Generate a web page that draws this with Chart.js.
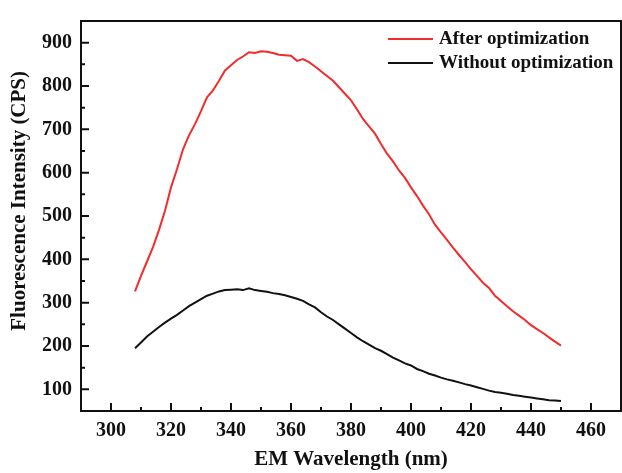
<!DOCTYPE html>
<html>
<head>
<meta charset="utf-8">
<script src="https://cdn.jsdelivr.net/npm/chart.js@4.4.1/dist/chart.umd.min.js"></script>
<style>
  html, body { margin: 0; padding: 0; background: #fff; }
</style>
</head>
<body>
<canvas id="ch" width="622" height="473"></canvas>
<script>
// emission wavelength, nm
const wavelengths = [
  308, 310, 312, 314, 316, 318, 320, 322, 324, 326, 328, 330, 332, 334, 336, 338,
  340, 342, 344, 346, 348, 350, 352, 354, 356, 358, 360, 362, 364, 366, 368, 370,
  372, 374, 376, 378, 380, 382, 384, 386, 388, 390, 392, 394, 396, 398, 400, 402,
  404, 406, 408, 410, 412, 414, 416, 418, 420, 422, 424, 426, 428, 430, 432, 434,
  436, 438, 440, 442, 444, 446, 448, 450
];
const afterOpt = [
  326, 362, 395, 428, 468, 512, 566, 608, 654, 686, 712, 742, 774, 790, 812, 836,
  848, 860, 868, 878, 876, 880, 879, 876, 872, 871, 870, 858, 862, 855, 845, 834,
  823, 812, 797, 782, 767, 746, 724, 707, 690, 666, 644, 626, 605, 588, 566, 546,
  524, 504, 480, 462, 445, 427, 410, 394, 377, 362, 346, 334, 316, 304, 292, 280,
  270, 260, 248, 239, 230, 220, 210, 201
];
const withoutOpt = [
  195, 208, 222, 233, 244, 254, 263, 272, 282, 292, 300, 308, 316, 321, 326, 329,
  330, 331, 329, 333, 329, 327, 325, 322, 320, 317, 313, 309, 304, 296, 289, 278,
  268, 260, 250, 240, 230, 220, 211, 203, 195, 189, 181, 173, 167, 160, 155, 147,
  142, 136, 132, 127, 123, 120, 116, 112, 109, 105, 101, 97, 94, 92, 90, 87,
  85, 83, 81, 79, 77, 75, 74, 73
];
const seriesNames = ['After optimization', 'Without optimization'];
const xTicks = [300, 320, 340, 360, 380, 400, 420, 440, 460];
const xMinor = [310, 330, 350, 370, 390, 410, 430, 450];
const yTicks = [100, 200, 300, 400, 500, 600, 700, 800, 900];
const yMinor = [150, 250, 350, 450, 550, 650, 750, 850];
const yTitle = 'Fluorescence Intensity (CPS)';

const serif = '"Liberation Serif", "Times New Roman", serif';

function pts(ys) {
  return wavelengths.map((x, i) => ({ x: x, y: ys[i] }));
}

// box + inward ticks like the Origin plot
const framePlugin = {
  id: 'frame',
  afterDraw(chart) {
    const ctx = chart.ctx;
    const a = chart.chartArea;
    const xs = chart.scales.x, ys = chart.scales.y;
    ctx.save();
    ctx.strokeStyle = '#111';
    ctx.lineWidth = 2;
    ctx.strokeRect(a.left, a.top, a.right - a.left, a.bottom - a.top);
    ctx.beginPath();
    xTicks.forEach(v => { const p = xs.getPixelForValue(v); ctx.moveTo(p, a.bottom); ctx.lineTo(p, a.bottom - 8); });
    xMinor.forEach(v => { const p = xs.getPixelForValue(v); ctx.moveTo(p, a.bottom); ctx.lineTo(p, a.bottom - 4); });
    yTicks.forEach(v => { const p = ys.getPixelForValue(v); ctx.moveTo(a.left, p); ctx.lineTo(a.left + 8, p); });
    yMinor.forEach(v => { const p = ys.getPixelForValue(v); ctx.moveTo(a.left, p); ctx.lineTo(a.left + 4, p); });
    ctx.stroke();

    // y title sits a bit above the middle in the original
    ctx.fillStyle = '#111';
    ctx.font = 'bold 21px ' + serif;
    ctx.textAlign = 'center';
    ctx.textBaseline = 'middle';
    ctx.translate(20, ys.getPixelForValue(535));
    ctx.rotate(-Math.PI / 2);
    ctx.fillText(yTitle, 0, 0);
    ctx.setTransform(1, 0, 0, 1, 0, 0);

    // legend
    ctx.font = 'bold 19px ' + serif;
    ctx.textAlign = 'left';
    chart.data.datasets.forEach((ds, i) => {
      const y = 39 + i * 24;
      ctx.strokeStyle = ds.borderColor;
      ctx.lineWidth = 2;
      ctx.beginPath();
      ctx.moveTo(388, y);
      ctx.lineTo(433, y);
      ctx.stroke();
      ctx.fillText(ds.label, 439, y);
    });
    ctx.restore();
  }
};

new Chart(document.getElementById('ch').getContext('2d'), {
  type: 'line',
  data: {
    datasets: [
      { label: seriesNames[0], data: pts(afterOpt), borderColor: '#f02c2c', borderWidth: 2, pointRadius: 0, tension: 0 },
      { label: seriesNames[1], data: pts(withoutOpt), borderColor: '#111111', borderWidth: 2, pointRadius: 0, tension: 0 }
    ]
  },
  options: {
    responsive: false,
    animation: false,
    events: [],
    layout: { padding: { top: 11, right: 1, left: 0, bottom: 0 } },
    plugins: { legend: { display: false }, tooltip: { enabled: false } },
    scales: {
      x: {
        type: 'linear',
        min: 290,
        max: 470,
        afterBuildTicks: s => { s.ticks = xTicks.map(v => ({ value: v })); },
        afterFit: s => { s.height = 62; },
        grid: { display: false, drawTicks: false },
        border: { display: false },
        ticks: { color: '#111', padding: 8, maxRotation: 0, font: { family: serif, size: 20, weight: 'bold' } },
        title: { display: true, text: 'EM Wavelength (nm)', color: '#111', padding: { top: 0, bottom: 1 },
                 font: { family: serif, size: 21, weight: 'bold' } }
      },
      y: {
        min: 50,
        max: 950,
        afterBuildTicks: s => { s.ticks = yTicks.map(v => ({ value: v })); },
        afterFit: s => { s.width = 81; },
        grid: { display: false, drawTicks: false },
        border: { display: false },
        ticks: { color: '#111', padding: 9, font: { family: serif, size: 20, weight: 'bold' } }
      }
    }
  },
  plugins: [framePlugin]
});
</script>
</body>
</html>
